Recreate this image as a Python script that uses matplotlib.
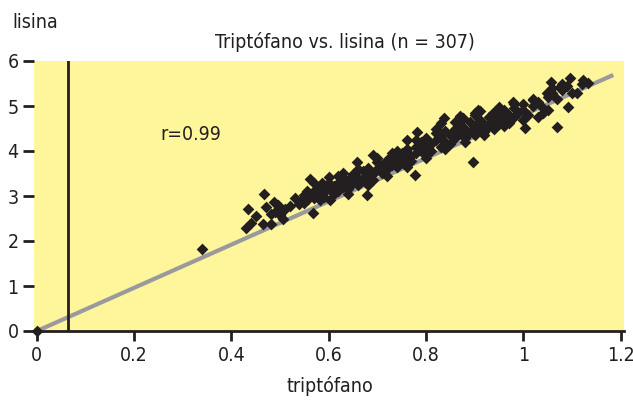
import matplotlib.pyplot as plt

plt.rcParams['font.family'] = ['DejaVu Sans']
plt.rcParams['font.stretch'] = 'condensed'

# ---- data ----
# outlying / visible isolated points
trip_edge = [0.000, 0.340, 0.434, 0.430, 0.440, 0.467, 0.488, 0.481, 0.506, 0.465,
             0.481, 0.498, 0.496, 0.539, 0.562, 0.556, 0.558, 0.568, 0.586, 0.597,
             0.582, 0.603, 0.630, 0.617, 0.638, 0.837, 0.877, 0.901, 0.782, 0.761,
             0.691, 0.730, 0.658, 0.778, 0.897, 0.679, 0.613, 1.097, 1.123, 1.134,
             1.056, 1.076, 1.049, 1.111, 1.091, 1.070, 1.004, 1.019, 0.979, 0.938,
             0.907, 1.051, 1.031, 0.967, 0.932]
lis_edge = [0.00, 1.82, 2.71, 2.29, 2.40, 3.04, 2.87, 2.60, 2.49, 2.38,
            2.38, 2.69, 2.80, 2.82, 3.38, 3.11, 2.93, 2.62, 3.29, 3.24,
            2.91, 2.91, 3.51, 3.13, 3.29, 4.73, 4.73, 4.84, 4.42, 4.24,
            3.91, 3.96, 3.76, 3.47, 3.76, 3.02, 3.18, 5.62, 5.58, 5.51,
            5.53, 5.42, 5.29, 5.29, 4.98, 4.53, 4.51, 5.13, 5.09, 4.84,
            4.91, 4.91, 4.76, 4.69, 4.62]

# dense band of points
trip_core = [0.52, 0.53, 0.54, 0.55, 0.55, 0.56, 0.57, 0.57, 0.58, 0.58,
             0.59, 0.59, 0.60, 0.60, 0.61, 0.61, 0.62, 0.62, 0.63, 0.63,
             0.64, 0.64, 0.65, 0.65, 0.66, 0.66, 0.67, 0.67, 0.68, 0.68,
             0.69, 0.69, 0.70, 0.70, 0.71, 0.71, 0.72, 0.72, 0.73, 0.73,
             0.74, 0.74, 0.75, 0.75, 0.76, 0.76, 0.77, 0.77, 0.78, 0.78,
             0.79, 0.79, 0.80, 0.80, 0.80, 0.81, 0.81, 0.82, 0.82, 0.83,
             0.83, 0.84, 0.84, 0.85, 0.85, 0.86, 0.86, 0.87, 0.87, 0.88,
             0.88, 0.89, 0.89, 0.90, 0.90, 0.91, 0.91, 0.92, 0.92, 0.93,
             0.93, 0.94, 0.94, 0.95, 0.95, 0.96, 0.96, 0.97, 0.97, 0.98,
             0.98, 0.99, 1.00, 1.00, 1.01, 1.02, 1.03, 1.04, 1.05, 1.06,
             1.07, 1.08, 1.09, 1.10, 1.12, 0.45, 0.47, 0.49, 0.51, 0.50,
             0.62, 0.66, 0.70, 0.74, 0.78, 0.82, 0.86, 0.90, 0.94, 0.98,
             1.02, 1.06, 1.08, 0.64, 0.68, 0.72, 0.76, 0.80, 0.84, 0.88,
             0.92, 0.96, 1.00, 1.04, 0.57, 0.60, 0.83, 0.87, 0.91, 0.95]
lis_core = [2.78, 2.95, 2.86, 3.02, 2.84, 3.05, 2.95, 3.12, 3.00, 3.20,
            3.08, 2.98, 3.15, 3.30, 3.05, 3.22, 3.30, 3.12, 3.20, 3.40,
            3.15, 3.35, 3.28, 3.50, 3.40, 3.25, 3.55, 3.38, 3.45, 3.62,
            3.50, 3.35, 3.60, 3.75, 3.52, 3.68, 3.80, 3.60, 3.70, 3.88,
            3.65, 3.82, 3.95, 3.75, 3.85, 4.05, 3.90, 3.78, 4.10, 3.95,
            4.00, 4.20, 4.10, 3.92, 4.30, 4.15, 4.00, 4.25, 4.40, 4.10,
            4.30, 4.20, 4.45, 4.35, 4.15, 4.50, 4.30, 4.40, 4.60, 4.30,
            4.50, 4.65, 4.42, 4.55, 4.35, 4.70, 4.50, 4.60, 4.42, 4.75,
            4.55, 4.50, 4.68, 4.80, 4.60, 4.90, 4.70, 4.80, 4.62, 4.95,
            4.75, 4.85, 4.90, 5.05, 4.80, 5.00, 5.10, 4.95, 5.20, 5.30,
            5.15, 5.35, 5.45, 5.30, 5.50, 2.55, 2.75, 2.65, 2.72, 2.58,
            3.45, 3.60, 3.85, 4.00, 4.25, 4.50, 4.65, 4.80, 4.85, 5.05,
            5.15, 5.40, 5.50, 3.05, 3.25, 3.45, 3.65, 3.85, 4.05, 4.20,
            4.35, 4.55, 4.70, 4.85, 3.30, 3.42, 4.62, 4.78, 4.88, 4.98]

fit_x = [0.0, 1.185]
fit_y = [0.0, 5.69]
cutoff_x = 0.063

x_ticks = [0, 0.2, 0.4, 0.6, 0.8, 1, 1.2]
x_labels = ['0', '0.2', '0.4', '0.6', '0.8', '1', '1.2']
y_ticks = [0, 1, 2, 3, 4, 5, 6]

# ---- plot ----
fig = plt.figure(figsize=(6.33, 4.01), dpi=100)
ax = fig.add_axes([34 / 633, 1 - 331 / 401, 590 / 633, 270 / 401])
ax.set_facecolor('#fff59b')

ax.plot(fit_x, fit_y, color='#9a9a9e', lw=3, solid_capstyle='butt', zorder=2)
ax.axvline(cutoff_x, color='#231f20', lw=2, zorder=2)
ax.scatter(trip_core, lis_core, marker='D', s=36, color='#231f20', lw=0, zorder=3)
ax.scatter(trip_edge, lis_edge, marker='D', s=36, color='#231f20', lw=0, zorder=3,
           clip_on=False)

ax.set_xlim(-0.006, 1.207)
ax.set_ylim(0, 6)
ax.set_xticks(x_ticks)
ax.set_xticklabels(x_labels)
ax.set_yticks(y_ticks)

for s in ['top', 'right', 'left']:
    ax.spines[s].set_visible(False)
ax.spines['bottom'].set_linewidth(2)
ax.spines['bottom'].set_color('#231f20')
ax.tick_params(axis='x', length=7, width=2, color='#231f20', labelsize=14,
               labelcolor='#231f20', pad=4)
ax.tick_params(axis='y', length=8, width=2, color='#231f20', labelsize=14,
               labelcolor='#231f20', pad=3)

ax.text(0.253, 4.36, 'r=0.99', fontsize=14, color='#231f20', va='center')
fig.text(345 / 633, 1 - 42 / 401, 'Triptófano vs. lisina (n = 307)', fontsize=14,
         color='#231f20', ha='center', va='center')
fig.text(35 / 633, 1 - 22 / 401, 'lisina', fontsize=14, color='#231f20',
         ha='center', va='center')
fig.text(330 / 633, 1 - 386 / 401, 'triptófano', fontsize=14, color='#231f20',
         ha='center', va='center')

fig.savefig('out.png', dpi=100)
